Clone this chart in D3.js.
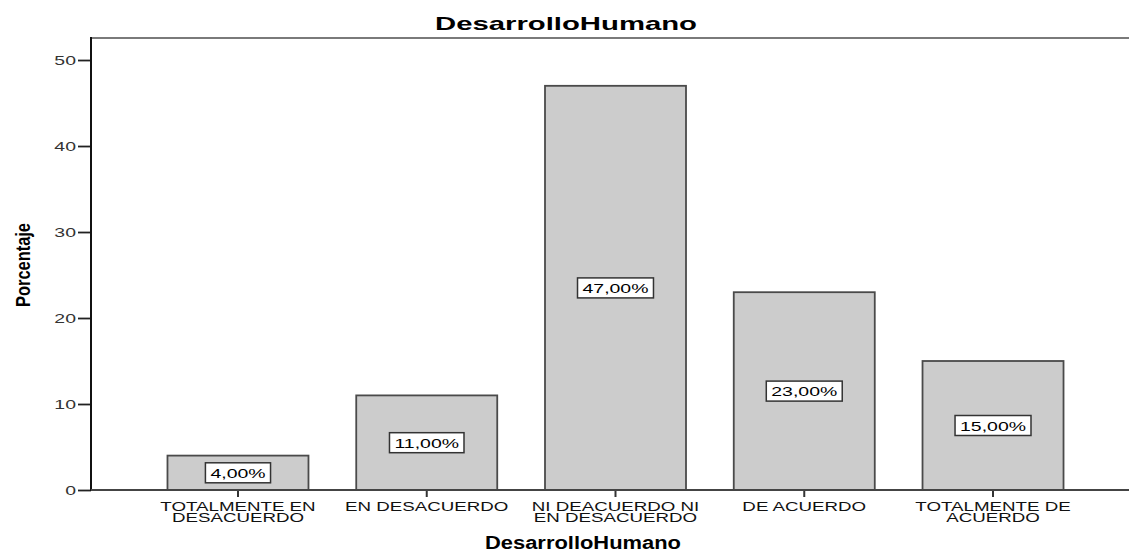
<!DOCTYPE html>
<html>
<head>
<meta charset="utf-8">
<script src="https://cdn.jsdelivr.net/npm/d3@7"></script>
<style>
  body { margin: 0; background: #fff; }
  text { font-family: "Liberation Sans", Arial, sans-serif; }
</style>
</head>
<body>
<div id="chart"></div>
<script>
'use strict'

// Data
const categories = [
    ['TOTALMENTE EN', 'DESACUERDO'],
    ['EN DESACUERDO'],
    ['NI DEACUERDO NI', 'EN DESACUERDO'],
    ['DE ACUERDO'],
    ['TOTALMENTE DE', 'ACUERDO']
];
const percents = [4, 11, 47, 23, 15];
const yTicks = [0, 10, 20, 30, 40, 50];

const width = 1129, height = 552;
const plotLeft = 91, plotRight = 1129, plotTop = 38, plotBottom = 490;
const wide = 1.44; // the original picture is stretched horizontally

// Stretch a text selection horizontally by factor k.
function stretch(sel, k) {
    sel.each(function() {
        const len = this.getComputedTextLength();
        d3.select(this)
            .attr('textLength', len * k)
            .attr('lengthAdjust', 'spacingAndGlyphs');
    });
}

const svg = d3.select('#chart').append('svg')
    .attr('width', width)
    .attr('height', height);

const x = d3.scaleBand()
    .domain(d3.range(categories.length))
    .range([143.6, 1087.4])
    .paddingInner(0.253)
    .paddingOuter(0.1265);

const y = d3.scaleLinear()
    .domain([0, 52.56])
    .range([plotBottom, plotTop]);

// Frame top line
svg.append('line')
    .attr('x1', plotLeft).attr('x2', plotRight)
    .attr('y1', plotTop).attr('y2', plotTop)
    .attr('stroke', '#7a7a7a').attr('stroke-width', 2);

// Bars
svg.selectAll('rect.bar')
    .data(percents)
    .join('rect')
    .attr('class', 'bar')
    .attr('x', (d, i) => x(i))
    .attr('y', d => y(d))
    .attr('width', x.bandwidth())
    .attr('height', d => y(0) - y(d))
    .attr('fill', '#cccccc')
    .attr('stroke', '#4a4a4a')
    .attr('stroke-width', 1.8);

// Value labels in boxes
const fmt = d => d3.format('.2f')(d).replace('.', ',') + '%';
const lab = svg.selectAll('g.vlabel')
    .data(percents)
    .join('g')
    .attr('class', 'vlabel')
    .attr('transform', (d, i) => `translate(${x(i) + x.bandwidth() / 2},${y(d / 2)})`);

lab.append('text')
    .attr('text-anchor', 'middle')
    .attr('dy', '0.37em')
    .style('font-size', '13.5px')
    .attr('fill', '#000')
    .text(fmt)
    .call(stretch, wide);

lab.each(function() {
    const g = d3.select(this);
    const w = +g.select('text').attr('textLength');
    g.insert('rect', 'text')
        .attr('x', -w / 2 - 5)
        .attr('y', -10)
        .attr('width', w + 10)
        .attr('height', 20)
        .attr('fill', '#fff')
        .attr('stroke', '#333')
        .attr('stroke-width', 1.5);
});

// Y axis
const yAxis = d3.axisLeft(y)
    .tickValues(yTicks)
    .tickSize(13)
    .tickPadding(2)
    .tickSizeOuter(0);

const gy = svg.append('g')
    .attr('transform', `translate(${plotLeft},0)`)
    .call(yAxis);
gy.select('.domain').remove();
gy.selectAll('.tick line').attr('stroke', '#222').attr('stroke-width', 1.8);
gy.selectAll('.tick text')
    .style('font-size', '13.5px')
    .style('font-family', '"Liberation Sans", Arial, sans-serif')
    .attr('fill', '#333')
    .call(stretch, wide);

svg.append('line')
    .attr('x1', plotLeft).attr('x2', plotLeft)
    .attr('y1', plotTop - 1).attr('y2', plotBottom + 1)
    .attr('stroke', '#111').attr('stroke-width', 2);

// X axis
const gx = svg.append('g')
    .attr('transform', `translate(0,${plotBottom})`)
    .call(d3.axisBottom(x).tickSize(7).tickSizeOuter(0).tickFormat(''));
gx.select('.domain').remove();
gx.selectAll('.tick line').attr('stroke', '#333').attr('stroke-width', 2);

svg.append('line')
    .attr('x1', plotLeft).attr('x2', plotRight)
    .attr('y1', plotBottom).attr('y2', plotBottom)
    .attr('stroke', '#444').attr('stroke-width', 2);

// X tick labels, one text per line
const lines = categories.flatMap((c, i) => c.map((t, j) => ({ t, i, j })));
svg.selectAll('text.xlab')
    .data(lines)
    .join('text')
    .attr('class', 'xlab')
    .attr('x', d => x(d.i) + x.bandwidth() / 2)
    .attr('y', d => 511 + d.j * 10.5)
    .attr('text-anchor', 'middle')
    .style('font-size', '13px')
    .attr('fill', '#111')
    .text(d => d.t)
    .call(stretch, wide);

// Titles
svg.append('text')
    .attr('x', 566).attr('y', 30)
    .attr('text-anchor', 'middle')
    .style('font-size', '18.5px')
    .style('font-weight', 'bold')
    .attr('textLength', 262)
    .attr('lengthAdjust', 'spacingAndGlyphs')
    .text('DesarrolloHumano');

svg.append('text')
    .attr('x', 583).attr('y', 549)
    .attr('text-anchor', 'middle')
    .style('font-size', '18px')
    .style('font-weight', 'bold')
    .attr('textLength', 196)
    .attr('lengthAdjust', 'spacingAndGlyphs')
    .text('DesarrolloHumano');

svg.append('text')
    .attr('transform', 'translate(30,265) rotate(-90)')
    .attr('text-anchor', 'middle')
    .style('font-family', '"Liberation Sans Narrow", "Arial Narrow", sans-serif')
    .style('font-size', '21px')
    .style('font-weight', 'bold')
    .attr('textLength', 84)
    .attr('lengthAdjust', 'spacingAndGlyphs')
    .text('Porcentaje');
</script>
</body>
</html>
